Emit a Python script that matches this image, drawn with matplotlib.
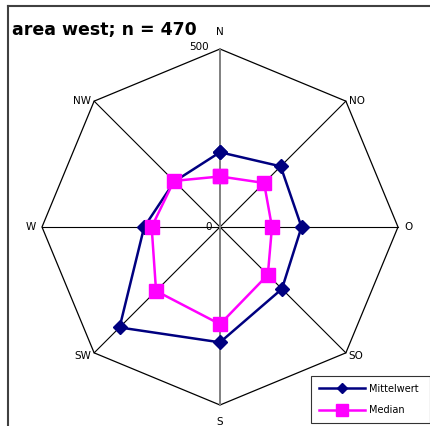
import numpy as np
import matplotlib.pyplot as plt
from matplotlib.lines import Line2D

# wind directions (clockwise from N)
directions = ["N", "NO", "O", "SO", "S", "SW", "W", "NW"]
mittelwert = [210, 241, 229, 246, 324, 399, 213, 181]
median     = [142, 175, 146, 190, 273, 254, 192, 183]
r_max = 500

plt.rcParams['font.family'] = ['DejaVu Sans']

W, H = 431, 426
cx, cy = 220, 227      # centre in pixels
R_px = 178             # radius of 500 in pixels
k = r_max / R_px       # data units per pixel

fig = plt.figure(figsize=(W / 100, H / 100), dpi=100)
ax = fig.add_axes([0, 0, 1, 1])
ax.set_xlim(-cx * k, (W - cx) * k)
ax.set_ylim(-(H - cy) * k, cy * k)
ax.axis('off')

theta = np.arange(len(directions)) * 2 * np.pi / len(directions)

def to_xy(vals):
    vals = np.asarray(vals, dtype=float)
    return vals * np.sin(theta), vals * np.cos(theta)

# octagon grid + spokes
ox, oy = to_xy([r_max] * len(directions))
ax.plot(np.append(ox, ox[0]), np.append(oy, oy[0]), color='black', lw=0.9, zorder=1)
for i in range(len(directions)):
    if i in (0, 4):
        continue
    ax.plot([0, ox[i]], [0, oy[i]], color='black', lw=0.8, zorder=1)
ax.plot([0, 0], [-r_max, r_max], color='#808080', lw=1.4, zorder=1)

# direction labels
lbl_fs = 7.5
for i, d in enumerate(directions):
    s, c = np.sin(theta[i]), np.cos(theta[i])
    if i in (0, 4):
        ax.text(0, (r_max + 17 * k) * c, d, ha='center', va='center', fontsize=lbl_fs)
    elif i in (2, 6):
        ax.text((r_max + 11 * k) * s, 0, d, ha='center', va='center', fontsize=lbl_fs)
    else:
        lx = r_max * s + (3 * k if s > 0 else -3 * k)
        ly = r_max * c + (0 if c > 0 else -3 * k)
        ax.text(lx, ly, d, ha='left' if s > 0 else 'right', va='center', fontsize=lbl_fs)

# value axis labels
ax.text(-11 * k, r_max + 2 * k, "500", ha='right', va='center', fontsize=lbl_fs)
ax.text(-8 * k, 0, "0", ha='right', va='center', fontsize=lbl_fs)

mx, my = to_xy(mittelwert)
ax.plot(np.append(mx, mx[0]), np.append(my, my[0]), color='#000080', lw=1.8,
        marker='D', markersize=7, label='Mittelwert', zorder=3)
dx, dy = to_xy(median)
ax.plot(np.append(dx, dx[0]), np.append(dy, dy[0]), color='#FF00FF', lw=1.8,
        marker='s', markersize=10, label='Median', zorder=4)

# title
fig.text(12 / W, 1 - 35 / H, "area west; n = 470", fontsize=12.5, fontweight='bold',
         ha='left', va='baseline')

# chart area frame (left and top edges visible)
fig.add_artist(Line2D([8 / W, 8 / W], [0, 1 - 6 / H], color='#404040', lw=1.5))
fig.add_artist(Line2D([8 / W, 1], [1 - 6 / H, 1 - 6 / H], color='#404040', lw=1.5))

leg = ax.legend(loc='lower left', bbox_to_anchor=(311 / W, 3 / H, 119 / W, 47 / H),
                bbox_transform=fig.transFigure, mode='expand', borderaxespad=0,
                fontsize=7, frameon=True, fancybox=False, edgecolor='black',
                borderpad=0.8, handlelength=4.8, handletextpad=0.4,
                labelspacing=1.2, markerscale=0.8)
leg.get_frame().set_linewidth(0.8)

fig.savefig("out.png", dpi=100)
